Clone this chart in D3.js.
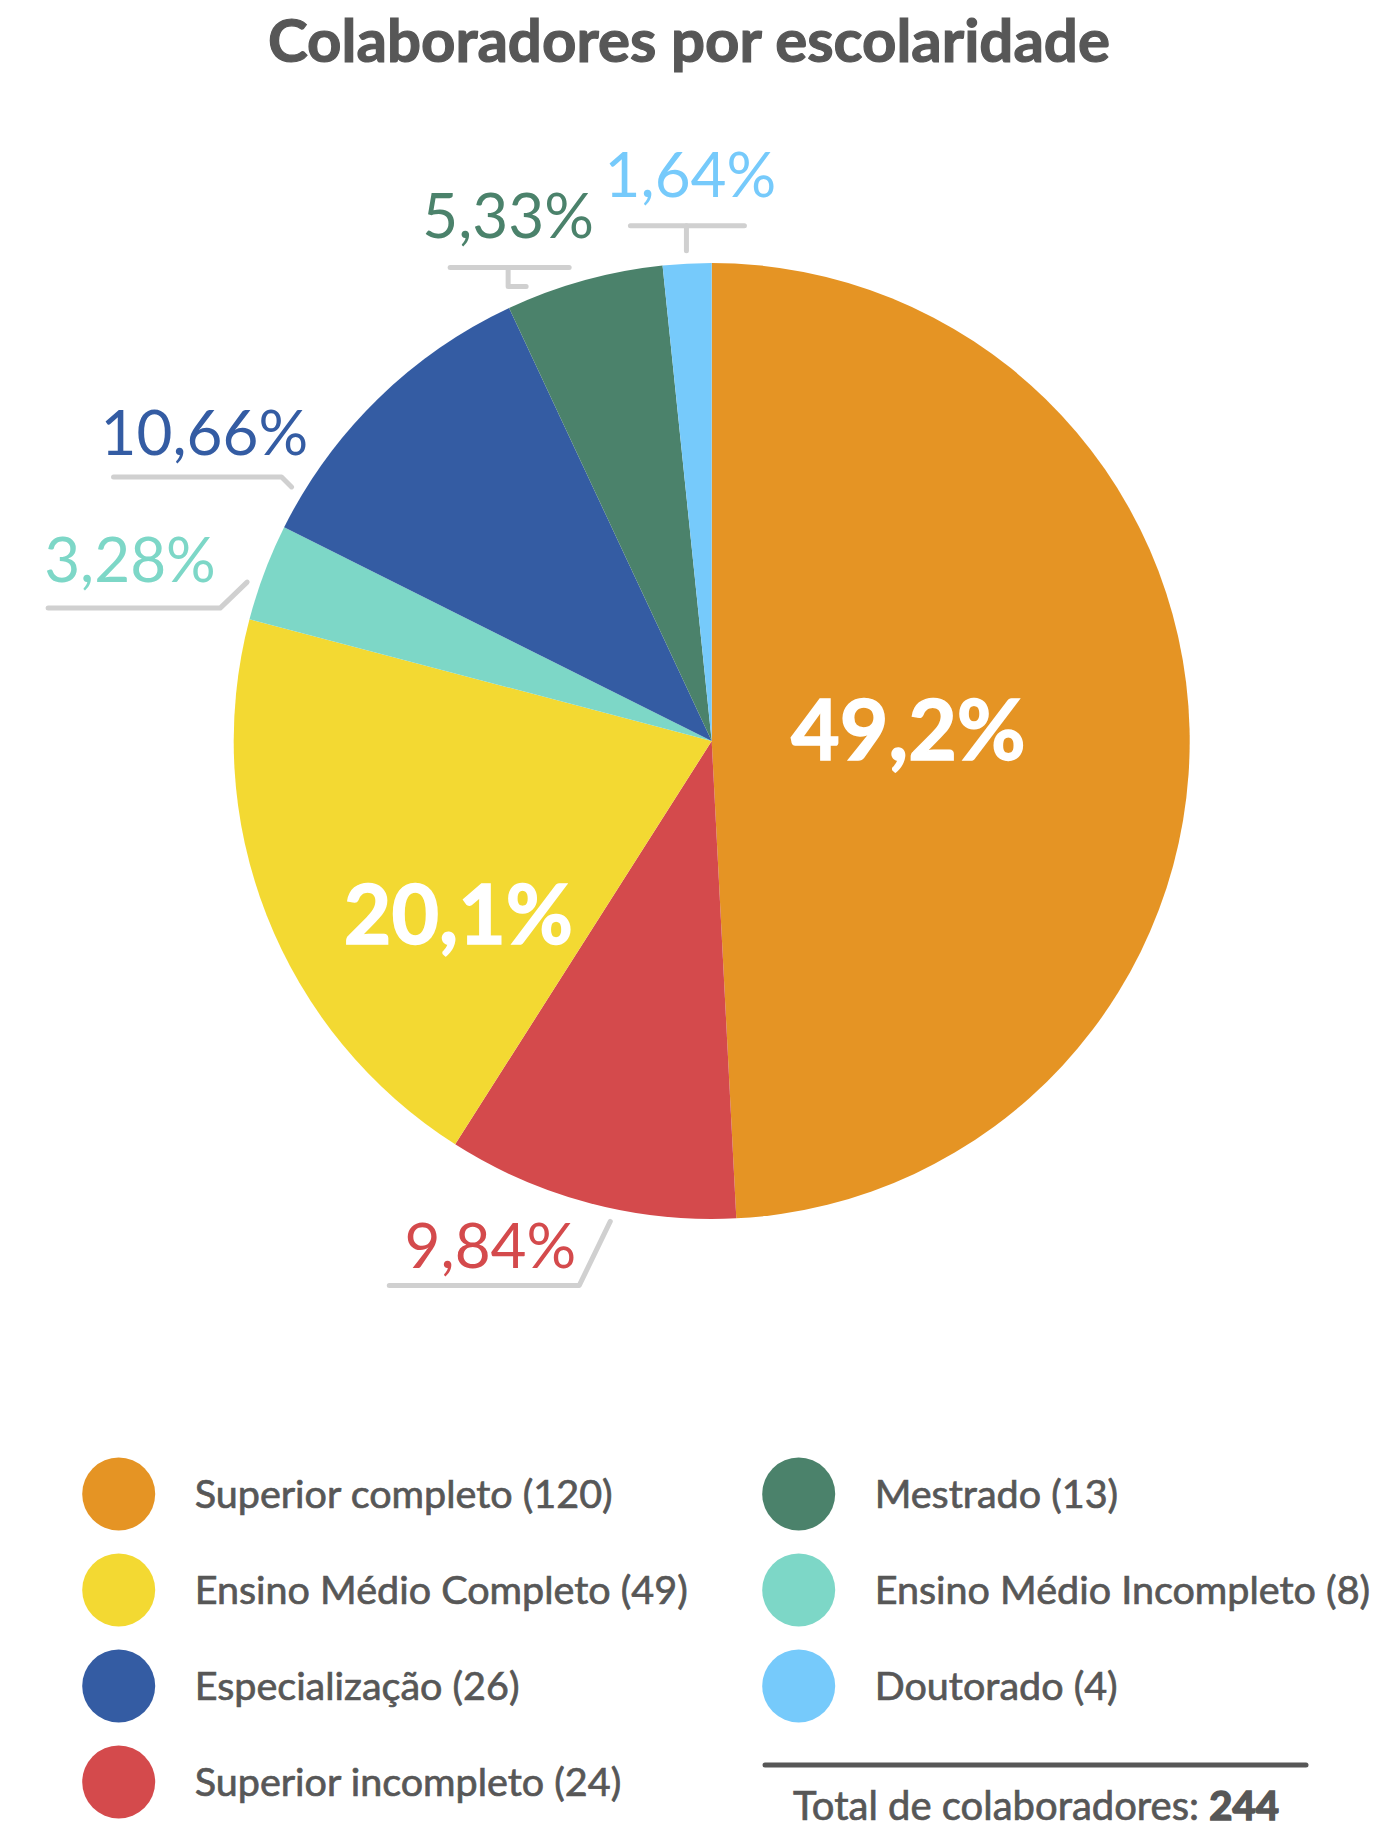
<!DOCTYPE html>
<html lang="pt-BR">
<head>
<meta charset="utf-8">
<title>Colaboradores por escolaridade</title>
<script src="https://cdn.jsdelivr.net/npm/d3@7"></script>
<style>
  html, body { margin: 0; padding: 0; background: #ffffff; }
  svg { display: block; }
</style>
</head>
<body>
<svg id="chart" width="1378" height="1829"></svg>
<script>
// ---- data -------------------------------------------------------------
const titleText = "Colaboradores por escolaridade";

// legend order (descending by headcount)
const categories = [
  "Superior completo",
  "Ensino Médio Completo",
  "Especialização",
  "Superior incompleto",
  "Mestrado",
  "Ensino Médio Incompleto",
  "Doutorado"
];
const counts = [120, 49, 26, 24, 13, 8, 4];
const percentLabels = ["49,2%", "20,1%", "10,66%", "9,84%", "5,33%", "3,28%", "1,64%"];
const colors = ["#E59424", "#F3D932", "#345CA3", "#D44A4C", "#4B826B", "#7DD7C7", "#76CAFB"];

// clockwise order of the slices, starting at 12 o'clock
const sliceOrder = [
  "Superior completo",
  "Superior incompleto",
  "Ensino Médio Completo",
  "Ensino Médio Incompleto",
  "Especialização",
  "Mestrado",
  "Doutorado"
];

const totalPrefix = "Total de colaboradores: ";
const totalValue = d3.sum(counts);

// ---- layout -----------------------------------------------------------
const W = 1378, H = 1829;
const cx = 711.7, cy = 741, R = 478;
const FONT = "Lato, 'Noto Sans', sans-serif";
const TEXT_GRAY = "#575757";
const LEADER_GRAY = "#D0D0D0";

// where each slice's label sits: `at` is the position inside the slice
// (0 = start angle, 1 = end angle); leader paths are offsets from the anchor.
const labelLayout = {
  "Superior completo":       { inside: true, at: 0.49, r: 197, size: 84 },
  "Ensino Médio Completo":   { inside: true, at: 0.32, r: 307, size: 82 },
  "Superior incompleto":     { at: 0.42, paths: [[[0,0],[-31,64],[-221,64]]], tx: -34, ty: 47, anchor: "end" },
  "Ensino Médio Incompleto": { at: 0.35, paths: [[[0,0],[-27,26],[-199,26]]], tx: -203, ty: 0, anchor: "start" },
  "Especialização":          { at: 0.12, paths: [[[0,0],[-10,-10],[-178,-10]]], tx: -191, ty: -32, anchor: "start" },
  "Mestrado":                { at: 0.15, paths: [[[0,0],[-18,0],[-18,-19]], [[-76,-19],[43,-19]]], tx: -18, ty: -48, anchor: "middle" },
  "Doutorado":               { at: 0.50, paths: [[[0,0],[0,-25]], [[-56,-25],[58,-25]]], tx: 4, ty: -54, anchor: "middle" }
};

const svg = d3.select("#chart").attr("viewBox", `0 0 ${W} ${H}`);

const byName = new Map(categories.map((c, i) => [c, {
  name: c, count: counts[i], label: percentLabels[i], color: colors[i]
}]));
const pieData = sliceOrder.map(n => byName.get(n));

// ---- title ------------------------------------------------------------
svg.append("text")
  .attr("x", W / 2)
  .attr("y", 62)
  .attr("text-anchor", "middle")
  .attr("font-family", FONT)
  .attr("font-weight", 700)
  .attr("font-size", 60)
  .attr("fill", TEXT_GRAY)
  .attr("stroke", TEXT_GRAY)
  .attr("stroke-width", 1.2)
  .text(titleText);

// ---- pie --------------------------------------------------------------
const pie = d3.pie().sort(null).value(d => d.count).startAngle(0).endAngle(2 * Math.PI);
const arcs = pie(pieData);
const arc = d3.arc().innerRadius(0).outerRadius(R);

const g = svg.append("g").attr("transform", `translate(${cx},${cy})`);

g.selectAll("path.slice")
  .data(arcs)
  .join("path")
  .attr("class", "slice")
  .attr("d", arc)
  .attr("fill", d => d.data.color);

// polar point at angle a (clockwise from 12 o'clock) and radius r
const polar = (a, r) => [r * Math.sin(a), -r * Math.cos(a)];
const line = d3.line();

arcs.forEach(d => {
  const lay = labelLayout[d.data.name];
  const a = d.startAngle + (d.endAngle - d.startAngle) * lay.at;
  if (lay.inside) {
    const [x, y] = polar(a, lay.r);
    g.append("text")
      .attr("x", x)
      .attr("y", y)
      .attr("dy", "0.36em")
      .attr("text-anchor", "middle")
      .attr("font-family", FONT)
      .attr("font-weight", 700)
      .attr("font-size", lay.size)
      .attr("fill", "#ffffff")
      .attr("stroke", "#ffffff")
      .attr("stroke-width", 1.5)
      .text(d.data.label);
    return;
  }
  const [ax, ay] = polar(a, R + 13);
  lay.paths.forEach(p => {
    g.append("path")
      .attr("d", line(p.map(([dx, dy]) => [ax + dx, ay + dy])))
      .attr("fill", "none")
      .attr("stroke", LEADER_GRAY)
      .attr("stroke-width", 5)
      .attr("stroke-linecap", "round")
      .attr("stroke-linejoin", "round");
  });
  g.append("text")
    .attr("x", ax + lay.tx)
    .attr("y", ay + lay.ty)
    .attr("text-anchor", lay.anchor)
    .attr("font-family", FONT)
    .attr("font-weight", 400)
    .attr("font-size", 62)
    .attr("fill", d.data.color)
    .text(d.data.label);
});

// ---- legend -----------------------------------------------------------
const colX = [118.7, 798.7];
const rowY0 = 1494, rowStep = 96, perCol = 4;
const legend = svg.append("g");
categories.forEach((c, i) => {
  const col = Math.floor(i / perCol), row = i % perCol;
  const x = colX[col], y = rowY0 + row * rowStep;
  legend.append("circle")
    .attr("cx", x).attr("cy", y).attr("r", 36.5)
    .attr("fill", colors[i]);
  legend.append("text")
    .attr("x", x + 76)
    .attr("y", y + 14)
    .attr("font-family", FONT)
    .attr("font-weight", 400)
    .attr("font-size", 39.5)
    .attr("fill", TEXT_GRAY)
    .attr("stroke", TEXT_GRAY)
    .attr("stroke-width", 0.7)
    .text(`${c} (${counts[i]})`);
});

// ---- total ------------------------------------------------------------
svg.append("line")
  .attr("x1", 765).attr("x2", 1306)
  .attr("y1", 1765).attr("y2", 1765)
  .attr("stroke", TEXT_GRAY)
  .attr("stroke-width", 5)
  .attr("stroke-linecap", "round");

const total = svg.append("text")
  .attr("x", 1036)
  .attr("y", 1820)
  .attr("text-anchor", "middle")
  .attr("font-family", FONT)
  .attr("font-size", 40)
  .attr("fill", TEXT_GRAY)
  .attr("stroke", TEXT_GRAY);
total.append("tspan").attr("font-weight", 400).attr("stroke-width", 0.7)
  .text(totalPrefix);
total.append("tspan").attr("font-weight", 700).attr("stroke-width", 1.6)
  .text(totalValue);
</script>
</body>
</html>
